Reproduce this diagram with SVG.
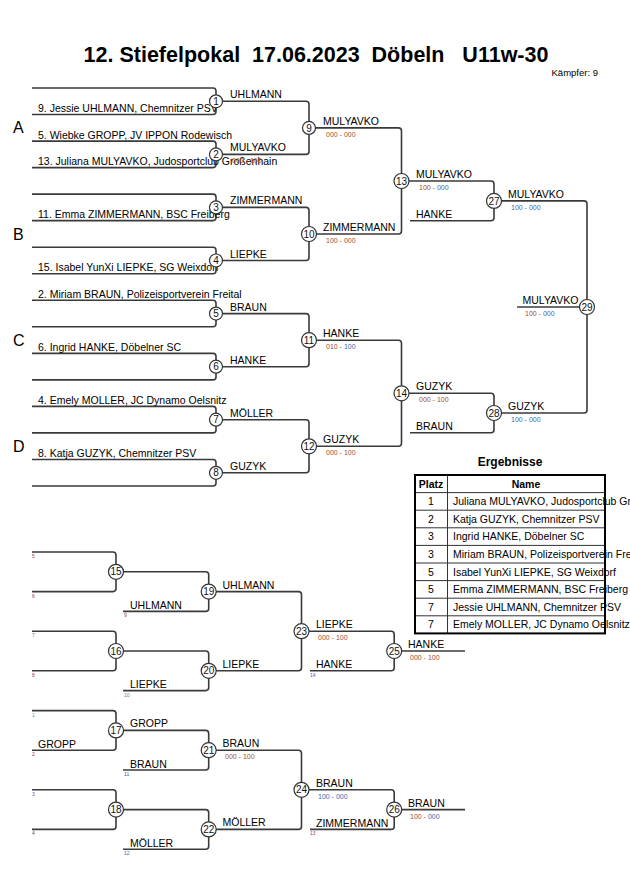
<svg xmlns="http://www.w3.org/2000/svg" width="630" height="891" viewBox="0 0 630 891">
<style>
text{font-family:"Liberation Sans",Arial,sans-serif;}
.ln{fill:none;stroke:#3a3a3a;stroke-width:1.6;}
.c{fill:#fff;stroke:#333;stroke-width:1.2;}
.cn{font-size:10px;text-anchor:middle;fill:#111;}
.nm{font-size:10.5px;fill:#000;}
.en{font-size:10.5px;fill:#000;}
.sR{font-size:7px;fill:#a0502a;}
.sB{font-size:7px;fill:#3a68b0;}
.sm{font-size:5px;}
.pool{font-size:16px;fill:#000;}
.tb{fill:none;stroke:#000;stroke-width:2;}
.tl{stroke:#333;stroke-width:1;}
.th{font-size:10.5px;font-weight:bold;text-anchor:middle;}
.tp{font-size:10.5px;text-anchor:middle;}
.tn{font-size:10.5px;}
</style>
<rect width="630" height="891" fill="#fff"/>
<g id="title">
<text x="316" y="62" font-size="21.5" font-weight="bold" text-anchor="middle" xml:space="preserve">12. Stiefelpokal  17.06.2023  Döbeln   U11w-30</text>
<text x="598" y="76" font-size="9.5" text-anchor="end">Kämpfer: 9</text>
</g>
<g id="pools">
<text class="pool" x="13" y="133.4">A</text>
<text class="pool" x="13" y="239.5">B</text>
<text class="pool" x="13" y="345.7">C</text>
<text class="pool" x="13" y="451.8">D</text>
</g>
<g id="connectors">
<path class="ln" d="M32 88 H213 Q216 88 216 91 V111.5 Q216 114.5 213 114.5 H32"/>
<path class="ln" d="M32 141.1 H213 Q216 141.1 216 144.1 V164.6 Q216 167.6 213 167.6 H32"/>
<path class="ln" d="M32 194.1 H213 Q216 194.1 216 197.1 V217.6 Q216 220.6 213 220.6 H32"/>
<path class="ln" d="M32 247.2 H213 Q216 247.2 216 250.2 V270.7 Q216 273.7 213 273.7 H32"/>
<path class="ln" d="M32 300.3 H213 Q216 300.3 216 303.3 V323.8 Q216 326.8 213 326.8 H32"/>
<path class="ln" d="M32 353.4 H213 Q216 353.4 216 356.4 V376.9 Q216 379.9 213 379.9 H32"/>
<path class="ln" d="M32 406.4 H213 Q216 406.4 216 409.4 V429.9 Q216 432.9 213 432.9 H32"/>
<path class="ln" d="M32 459.5 H213 Q216 459.5 216 462.5 V483 Q216 486 213 486 H32"/>
<path class="ln" d="M216 101.3 H306 Q309 101.3 309 104.3 V151.4 Q309 154.4 306 154.4 H216"/>
<path class="ln" d="M216 207.4 H306 Q309 207.4 309 210.4 V257.5 Q309 260.5 306 260.5 H216"/>
<path class="ln" d="M216 313.6 H306 Q309 313.6 309 316.6 V363.7 Q309 366.7 306 366.7 H216"/>
<path class="ln" d="M216 419.7 H306 Q309 419.7 309 422.7 V469.8 Q309 472.8 306 472.8 H216"/>
<path class="ln" d="M309 127.9 H398.5 Q401.5 127.9 401.5 130.9 V231 Q401.5 234 398.5 234 H309"/>
<path class="ln" d="M309 340.2 H398.5 Q401.5 340.2 401.5 343.2 V443.3 Q401.5 446.3 398.5 446.3 H309"/>
<path class="ln" d="M401.5 181 H491 Q494 181 494 184 V217.7 Q494 220.7 491 220.7 H410"/>
<path class="ln" d="M401.5 393.3 H491 Q494 393.3 494 396.3 V429.7 Q494 432.7 491 432.7 H410"/>
<path class="ln" d="M494 200.9 H584 Q587 200.9 587 203.9 V410 Q587 413 584 413 H494"/>
<path class="ln" d="M517 307 H587"/>
<path class="ln" d="M32 552 H113 Q116 552 116 555 V588.6 Q116 591.6 113 591.6 H32"/>
<path class="ln" d="M32 631.2 H113 Q116 631.2 116 634.2 V667.8 Q116 670.8 113 670.8 H32"/>
<path class="ln" d="M116 571.8 H205.7 Q208.7 571.8 208.7 574.8 V608.4 Q208.7 611.4 205.7 611.4 H123"/>
<path class="ln" d="M116 651 H205.7 Q208.7 651 208.7 654 V687.6 Q208.7 690.6 205.7 690.6 H123"/>
<path class="ln" d="M208.7 591.6 H298.5 Q301.5 591.6 301.5 594.6 V667.8 Q301.5 670.8 298.5 670.8 H208.7"/>
<path class="ln" d="M301.5 631.2 H391.2 Q394.2 631.2 394.2 634.2 V667.8 Q394.2 670.8 391.2 670.8 H310"/>
<path class="ln" d="M394.2 651 H465"/>
<path class="ln" d="M32 710.6 H113 Q116 710.6 116 713.6 V747.2 Q116 750.2 113 750.2 H32"/>
<path class="ln" d="M32 789.8 H113 Q116 789.8 116 792.8 V826.4 Q116 829.4 113 829.4 H32"/>
<path class="ln" d="M116 730.4 H205.7 Q208.7 730.4 208.7 733.4 V767 Q208.7 770 205.7 770 H123"/>
<path class="ln" d="M116 809.6 H205.7 Q208.7 809.6 208.7 812.6 V846.2 Q208.7 849.2 205.7 849.2 H123"/>
<path class="ln" d="M208.7 750.2 H298.5 Q301.5 750.2 301.5 753.2 V826.4 Q301.5 829.4 298.5 829.4 H208.7"/>
<path class="ln" d="M301.5 789.8 H391.2 Q394.2 789.8 394.2 792.8 V826.4 Q394.2 829.4 391.2 829.4 H310"/>
<path class="ln" d="M394.2 809.6 H465"/>
</g>
<g id="entries">
<text class="en" x="38" y="112">9. Jessie UHLMANN, Chemnitzer PSV</text>
<text class="en" x="38" y="138.6">5. Wiebke GROPP, JV IPPON Rodewisch</text>
<text class="en" x="38" y="165.1">13. Juliana MULYAVKO, Judosportclub Großenhain</text>
<text class="en" x="38" y="218.1">11. Emma ZIMMERMANN, BSC Freiberg</text>
<text class="en" x="38" y="271.2">15. Isabel YunXi LIEPKE, SG Weixdorf</text>
<text class="en" x="38" y="297.8">2. Miriam BRAUN, Polizeisportverein Freital</text>
<text class="en" x="38" y="350.9">6. Ingrid HANKE, Döbelner SC</text>
<text class="en" x="38" y="403.9">4. Emely MOLLER, JC Dynamo Oelsnitz</text>
<text class="en" x="38" y="457">8. Katja GUZYK, Chemnitzer PSV</text>
</g>
<g id="m1"><circle class="c" cx="216" cy="101.3" r="6.5"/><text class="cn" x="216" y="104.9">1</text><text class="nm" x="230" y="98.3">UHLMANN</text></g>
<g id="m2"><circle class="c" cx="216" cy="154.4" r="6.5"/><text class="cn" x="216" y="158">2</text><text class="nm" x="230" y="151.4">MULYAVKO</text><text x="232" y="163"><tspan class="sR">000 - 100</tspan></text></g>
<g id="m3"><circle class="c" cx="216" cy="207.4" r="6.5"/><text class="cn" x="216" y="211">3</text><text class="nm" x="230" y="204.4">ZIMMERMANN</text></g>
<g id="m4"><circle class="c" cx="216" cy="260.5" r="6.5"/><text class="cn" x="216" y="264.1">4</text><text class="nm" x="230" y="257.5">LIEPKE</text></g>
<g id="m5"><circle class="c" cx="216" cy="313.6" r="6.5"/><text class="cn" x="216" y="317.2">5</text><text class="nm" x="230" y="310.6">BRAUN</text></g>
<g id="m6"><circle class="c" cx="216" cy="366.7" r="6.5"/><text class="cn" x="216" y="370.3">6</text><text class="nm" x="230" y="363.7">HANKE</text></g>
<g id="m7"><circle class="c" cx="216" cy="419.7" r="6.5"/><text class="cn" x="216" y="423.3">7</text><text class="nm" x="230" y="416.7">MÖLLER</text></g>
<g id="m8"><circle class="c" cx="216" cy="472.8" r="6.5"/><text class="cn" x="216" y="476.4">8</text><text class="nm" x="230" y="469.8">GUZYK</text></g>
<g id="m9"><circle class="c" cx="309" cy="127.9" r="6.5"/><text class="cn" x="309" y="131.5">9</text><text class="nm" x="323" y="124.9">MULYAVKO</text><text x="326" y="136.9" class="sR">000 - 000</text></g>
<g id="m10"><circle class="c" cx="309" cy="234" r="7.5"/><text class="cn" x="309" y="237.6">10</text><text class="nm" x="323" y="231">ZIMMERMANN</text><text x="326" y="243" class="sR">100 - 000</text></g>
<g id="m11"><circle class="c" cx="309" cy="340.2" r="7.5"/><text class="cn" x="309" y="343.8">11</text><text class="nm" x="323" y="337.2">HANKE</text><text x="326" y="349.2" class="sR">010 - <tspan class="sB">100</tspan></text></g>
<g id="m12"><circle class="c" cx="309" cy="446.3" r="7.5"/><text class="cn" x="309" y="449.9">12</text><text class="nm" x="323" y="443.3">GUZYK</text><text x="326" y="455.3" class="sR">000 - 100</text></g>
<g id="m13"><circle class="c" cx="401.5" cy="181" r="7.5"/><text class="cn" x="401.5" y="184.6">13</text><text class="nm" x="416" y="178">MULYAVKO</text><text x="419" y="190" class="sR">100 - <tspan class="sB">000</tspan></text></g>
<g id="m14"><circle class="c" cx="401.5" cy="393.3" r="7.5"/><text class="cn" x="401.5" y="396.9">14</text><text class="nm" x="416" y="390.3">GUZYK</text><text x="419" y="402.3" class="sR">000 - 100</text></g>
<g id="m27"><circle class="c" cx="494" cy="200.9" r="7.5"/><text class="cn" x="494" y="204.5">27</text><text class="nm" x="416" y="218.2">HANKE</text><text class="nm" x="508" y="197.9">MULYAVKO</text><text x="511" y="209.9" class="sB">100 - 000</text></g>
<g id="m28"><circle class="c" cx="494" cy="413" r="7.5"/><text class="cn" x="494" y="416.6">28</text><text class="nm" x="416" y="430.2">BRAUN</text><text class="nm" x="508" y="410">GUZYK</text><text x="511" y="422" class="sB">100 - 000</text></g>
<g id="m29"><circle class="c" cx="587" cy="307" r="7.5"/><text class="cn" x="587" y="310.6">29</text><text class="nm" x="522.5" y="304">MULYAVKO</text><text x="525" y="316" class="sR">100 - <tspan class="sB">000</tspan></text></g>
<g id="results">
<text x="510" y="466" font-size="12" font-weight="bold" text-anchor="middle">Ergebnisse</text>
<text class="th" x="431" y="487.6">Platz</text>
<text class="th" x="526" y="487.6">Name</text>
<text class="tp" x="431" y="505.2">1</text><text class="tn" x="453" y="505.2">Juliana MULYAVKO, Judosportclub Großenhain</text>
<text class="tp" x="431" y="522.8">2</text><text class="tn" x="453" y="522.8">Katja GUZYK, Chemnitzer PSV</text>
<text class="tp" x="431" y="540.4">3</text><text class="tn" x="453" y="540.4">Ingrid HANKE, Döbelner SC</text>
<text class="tp" x="431" y="558">3</text><text class="tn" x="453" y="558">Miriam BRAUN, Polizeisportverein Freital</text>
<text class="tp" x="431" y="575.6">5</text><text class="tn" x="453" y="575.6">Isabel YunXi LIEPKE, SG Weixdorf</text>
<text class="tp" x="431" y="593.2">5</text><text class="tn" x="453" y="593.2">Emma ZIMMERMANN, BSC Freiberg</text>
<text class="tp" x="431" y="610.8">7</text><text class="tn" x="453" y="610.8">Jessie UHLMANN, Chemnitzer PSV</text>
<text class="tp" x="431" y="628.4">7</text><text class="tn" x="453" y="628.4">Emely MOLLER, JC Dynamo Oelsnitz</text>
<line class="tl" x1="415" y1="492.6" x2="605" y2="492.6"/>
<line class="tl" x1="415" y1="510.2" x2="605" y2="510.2"/>
<line class="tl" x1="415" y1="527.8" x2="605" y2="527.8"/>
<line class="tl" x1="415" y1="545.4" x2="605" y2="545.4"/>
<line class="tl" x1="415" y1="563" x2="605" y2="563"/>
<line class="tl" x1="415" y1="580.6" x2="605" y2="580.6"/>
<line class="tl" x1="415" y1="598.2" x2="605" y2="598.2"/>
<line class="tl" x1="415" y1="615.8" x2="605" y2="615.8"/>
<line class="tl" x1="447.5" y1="475" x2="447.5" y2="633.4"/>
<rect class="tb" x="415" y="475" width="190" height="158.4"/>
</g>
<g id="repechage-labels">
<text class="sm" x="32" y="558" fill="#b04040">5</text>
<text class="sm" x="32" y="597.5" fill="#a04040">6</text>
<text class="sm" x="32" y="637" fill="#6070a0">7</text>
<text class="sm" x="32" y="676.5" fill="#a04040">8</text>
<text class="nm" x="130" y="608.9">UHLMANN</text>
<text class="sm" x="124" y="617" fill="#a04040">9</text>
<text class="nm" x="130" y="688.1">LIEPKE</text>
<text class="sm" x="124" y="696.5" fill="#3090b0">10</text>
<text class="nm" x="316" y="668.3">HANKE</text>
<text class="sm" x="310" y="676.5" fill="#4060c0">14</text>
<text class="sm" x="32" y="716.5" fill="#30a0b0">1</text>
<text class="nm" x="38" y="747.7">GROPP</text>
<text class="sm" x="32" y="756" fill="#a04040">2</text>
<text class="nm" x="130" y="767.5">BRAUN</text>
<text class="sm" x="124" y="776" fill="#4060c0">11</text>
<text class="sm" x="32" y="795.7" fill="#6050b0">3</text>
<text class="sm" x="32" y="835.3" fill="#505050">4</text>
<text class="nm" x="130" y="846.7">MÖLLER</text>
<text class="sm" x="124" y="855" fill="#4070c0">12</text>
<text class="nm" x="316" y="826.9">ZIMMERMANN</text>
<text class="sm" x="310" y="835" fill="#a04060">13</text>
</g>
<g id="m15"><circle class="c" cx="116" cy="571.8" r="7.5"/><text class="cn" x="116" y="575.4">15</text></g>
<g id="m16"><circle class="c" cx="116" cy="651" r="7.5"/><text class="cn" x="116" y="654.6">16</text></g>
<g id="m19"><circle class="c" cx="208.7" cy="591.6" r="7.5"/><text class="cn" x="208.7" y="595.2">19</text><text class="nm" x="222.5" y="588.6">UHLMANN</text></g>
<g id="m20"><circle class="c" cx="208.7" cy="670.8" r="7.5"/><text class="cn" x="208.7" y="674.4">20</text><text class="nm" x="222.5" y="667.8">LIEPKE</text></g>
<g id="m23"><circle class="c" cx="301.5" cy="631.2" r="7.5"/><text class="cn" x="301.5" y="634.8">23</text><text class="nm" x="316" y="628.2">LIEPKE</text><text x="318" y="640.2" class="sR">000 - 100</text></g>
<g id="m25"><circle class="c" cx="394.2" cy="651" r="7.5"/><text class="cn" x="394.2" y="654.6">25</text><text class="nm" x="408" y="648">HANKE</text><text x="410" y="660" class="sR">000 - 100</text></g>
<g id="m17"><circle class="c" cx="116" cy="730.4" r="7.5"/><text class="cn" x="116" y="734">17</text><text class="nm" x="130" y="727.4">GROPP</text></g>
<g id="m18"><circle class="c" cx="116" cy="809.6" r="7.5"/><text class="cn" x="116" y="813.2">18</text></g>
<g id="m21"><circle class="c" cx="208.7" cy="750.2" r="7.5"/><text class="cn" x="208.7" y="753.8">21</text><text class="nm" x="222.5" y="747.2">BRAUN</text><text x="225" y="759.2" class="sR">000 - 100</text></g>
<g id="m22"><circle class="c" cx="208.7" cy="829.4" r="7.5"/><text class="cn" x="208.7" y="833">22</text><text class="nm" x="222.5" y="826.4">MÖLLER</text></g>
<g id="m24"><circle class="c" cx="301.5" cy="789.8" r="7.5"/><text class="cn" x="301.5" y="793.4">24</text><text class="nm" x="316" y="786.8">BRAUN</text><text x="318" y="798.8" class="sB">100 - 000</text></g>
<g id="m26"><circle class="c" cx="394.2" cy="809.6" r="7.5"/><text class="cn" x="394.2" y="813.2">26</text><text class="nm" x="408" y="806.6">BRAUN</text><text x="410" y="818.6" class="sR">100 - <tspan class="sB">000</tspan></text></g>
</svg>
